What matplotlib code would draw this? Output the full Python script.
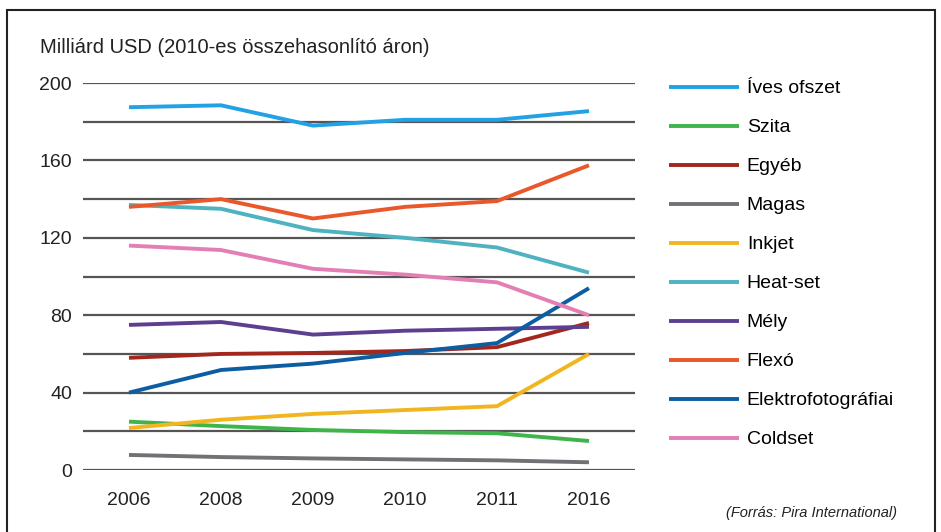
import numpy as np
import matplotlib
matplotlib.use('Agg')
import matplotlib.pyplot as plt
from matplotlib.patches import Rectangle

plt.rcParams['font.family'] = ['Liberation Sans', 'DejaVu Sans']

years = ['2006', '2008', '2009', '2010', '2011', '2016']

# series (Milliárd USD)
ives_ofszet = [187.5, 188.5, 178, 181, 181, 185.5]
szita = [25, 22.7, 20.7, 19.6, 19, 15]
egyeb = [58, 60, 60.5, 61.5, 63.5, 76]
magas = [7.8, 6.7, 6, 5.5, 5, 4]
inkjet = [21.7, 26, 29, 31, 33, 60]
heat_set = [137, 135, 124, 120, 115, 102]
mely = [75, 76.5, 70, 72, 73, 74]
flexo = [136, 140, 130, 136, 139, 157.5]
elektro = [40, 51.7, 55, 60.5, 65.6, 94]
coldset = [116, 113.7, 104, 101, 97, 80]

names = ['Íves ofszet', 'Szita', 'Egyéb', 'Magas', 'Inkjet', 'Heat-set',
         'Mély', 'Flexó', 'Elektrofotográfiai', 'Coldset']
series = [ives_ofszet, szita, egyeb, magas, inkjet, heat_set,
          mely, flexo, elektro, coldset]
colors = ['#22a2e4', '#3fb44b', '#a3271d', '#717275', '#f1b51f', '#4fb2c1',
          '#5c3f8e', '#e9582b', '#0d5da3', '#e47fb6']

fig = plt.figure(figsize=(9.41, 5.32), dpi=100)
ax = fig.add_axes([0.0882, 0.1165, 0.5866, 0.7274])

x = np.arange(len(years))
# grid lines every 20
for g in range(0, 201, 20):
    ax.axhline(g, color='#555555', lw=1.6, zorder=1)

handles = []
for name, vals, c in zip(names, series, colors):
    h, = ax.plot(x, vals, color=c, lw=2.8, label=name, zorder=3,
                 solid_capstyle='butt')
    handles.append(h)

ax.set_xlim(-0.5, 5.5)
ax.set_ylim(0, 200)
ax.set_xticks(x)
ax.set_xticklabels(years, fontsize=14, color='#222222')
ax.set_yticks(range(0, 201, 40))
ax.set_yticklabels([str(v) for v in range(0, 201, 40)], fontsize=14, color='#222222')
ax.tick_params(axis='x', length=0, pad=16)
ax.tick_params(axis='y', length=0, pad=8)
for s in ax.spines.values():
    s.set_visible(False)

fig.text(0.0425, 0.893, 'Milliárd USD (2010-es összehasonlító áron)',
         fontsize=14.5, color='#222222', va='bottom')

fig.legend(handles=handles, loc='upper left', bbox_to_anchor=(0.711, 0.85),
           frameon=False, fontsize=14, handlelength=3.6, handletextpad=0.4,
           labelspacing=1.1, borderaxespad=0, borderpad=0)

fig.text(0.953, 0.022, '(Forrás: Pira International)', fontsize=10.5,
         style='italic', color='#222222', ha='right', va='bottom')

# outer frame
fig.patches.append(Rectangle((0.0075, -0.05), 0.986, 1.031, transform=fig.transFigure,
                             fill=False, edgecolor='#222222', lw=1.5))

fig.savefig('out.png', dpi=100)
